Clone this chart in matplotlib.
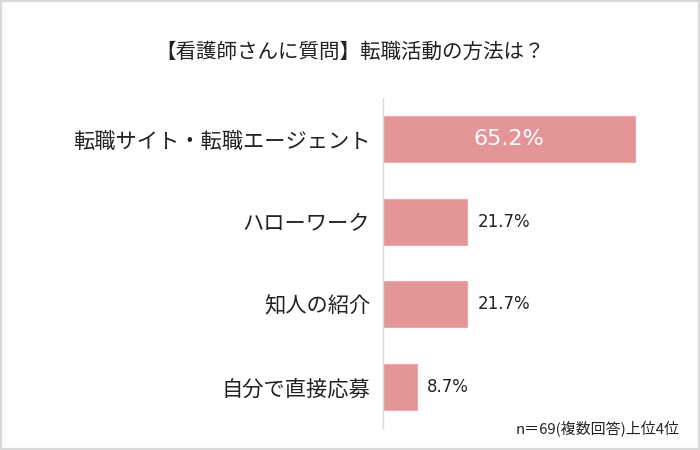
import matplotlib
matplotlib.use("Agg")
import matplotlib.pyplot as plt
from matplotlib.patches import Rectangle

plt.rcParams['font.family'] = ['Noto Sans CJK JP', 'DejaVu Sans']

# --- data ---
categories = ['転職サイト・転職エージェント', 'ハローワーク', '知人の紹介', '自分で直接応募']
values = [65.2, 21.7, 21.7, 8.7]
value_labels = ['65.2%', '21.7%', '21.7%', '8.7%']
title = '【看護師さんに質問】転職活動の方法は？'
note = 'n＝69(複数回答)上位4位'

bar_color = '#e39597'

fig = plt.figure(figsize=(7, 4.5), dpi=100)
ax = fig.add_axes([0.547, 0.049, 0.403, 0.733])

y = list(range(len(categories)))
ax.barh(y, values, height=0.56, color=bar_color, edgecolor='#eba9ab', linewidth=0.8)
ax.set_ylim(len(categories) - 0.5, -0.5)
ax.set_xlim(0, 73)

# value labels: the big one sits inside the bar
for i, (v, lab) in enumerate(zip(values, value_labels)):
    if v > 50:
        ax.text(v / 2, i, lab, ha='center', va='center', color='white',
                fontsize=16, family='DejaVu Sans')
    else:
        ax.text(v + 2.8, i, lab, ha='left', va='center', color='#222222',
                fontsize=12, family='DejaVu Sans')

ax.set_yticks(y)
ax.set_yticklabels(categories, fontsize=15.3, color='#222222')
ax.tick_params(axis='y', length=0, pad=9)
ax.set_xticks([])
for s in ['top', 'right', 'bottom']:
    ax.spines[s].set_visible(False)
ax.spines['left'].set_color('#d9d9d9')
ax.spines['left'].set_linewidth(1)

fig.text(0.5, 0.885, title, ha='center', va='center', fontsize=14.8, color='#222222')
fig.text(0.971, 0.048, note, ha='right', va='center', fontsize=10.8, color='#222222')

# light frame around the whole picture
fig.patches.append(Rectangle((0.002, 0.003), 0.996, 0.994, transform=fig.transFigure,
                             fill=False, edgecolor='#d9d9d9', linewidth=1.6))

fig.savefig('out.png', dpi=100)
